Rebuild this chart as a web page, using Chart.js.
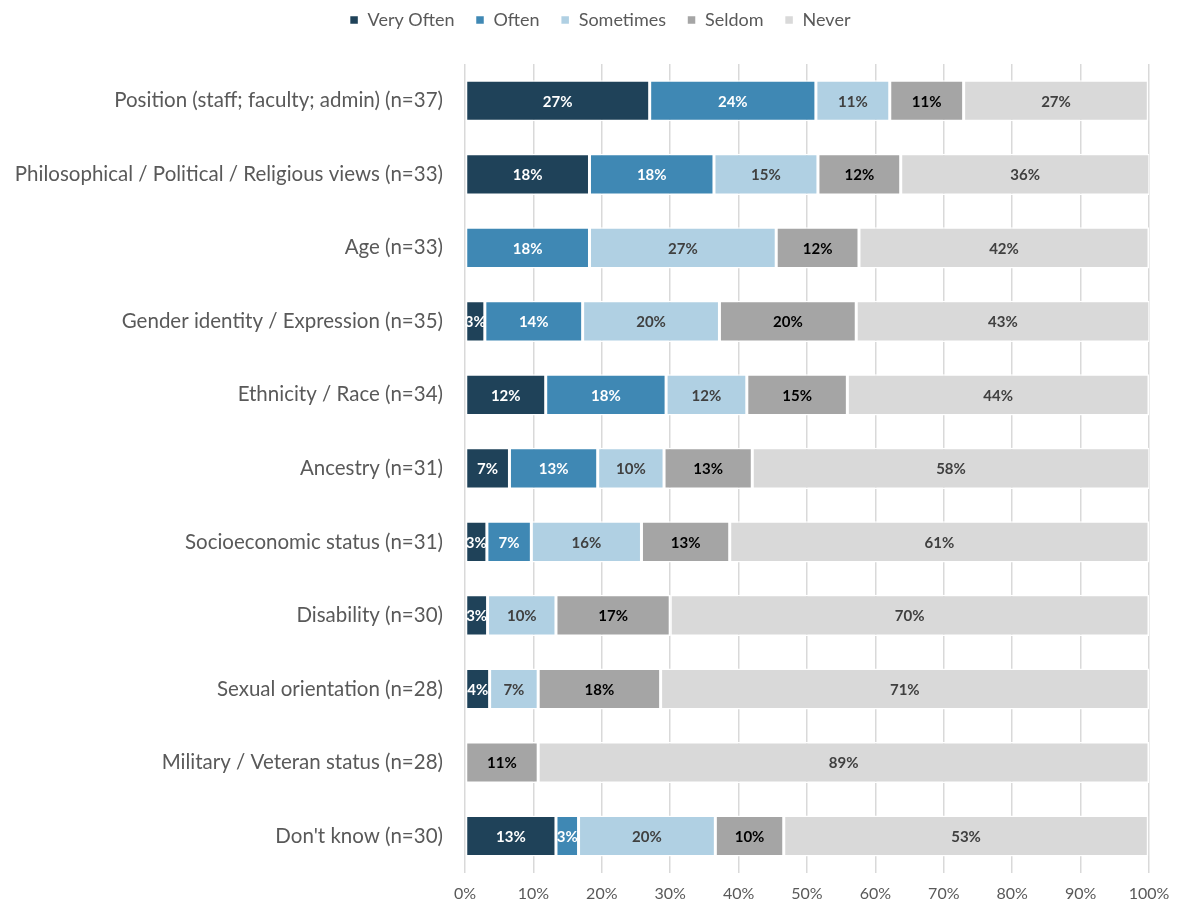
<!DOCTYPE html>
<html>
<head>
<meta charset="utf-8">
<script src="https://cdn.jsdelivr.net/npm/chart.js@4"></script>
<style>
  html, body { margin: 0; padding: 0; background: #fff; }
  #wrap { width: 1178px; height: 914px; }
</style>
</head>
<body>
<div id="wrap"><canvas id="myChart"></canvas></div>
<script>
// categories and series (percent of respondents)
const categories = [
  'Position (staff; faculty; admin) (n=37)',
  'Philosophical / Political / Religious views (n=33)',
  'Age (n=33)',
  'Gender identity / Expression (n=35)',
  'Ethnicity / Race (n=34)',
  'Ancestry (n=31)',
  'Socioeconomic status (n=31)',
  'Disability (n=30)',
  'Sexual orientation (n=28)',
  'Military / Veteran status (n=28)',
  "Don't know (n=30)"
];
const veryOften = [27.0, 18.2, 0, 2.9, 11.8, 6.5, 3.2, 3.3, 3.6, 0, 13.3];
const often     = [24.3, 18.2, 18.2, 14.3, 17.6, 12.9, 6.5, 0, 0, 0, 3.3];
const sometimes = [10.8, 15.2, 27.3, 20.0, 11.8, 9.7, 16.1, 10.0, 7.1, 0, 20.0];
const seldom    = [10.8, 12.1, 12.1, 20.0, 14.7, 12.9, 12.9, 16.7, 17.9, 10.7, 10.0];
const never     = [27.0, 36.4, 42.4, 42.9, 44.1, 58.1, 61.3, 70.0, 71.4, 89.3, 53.3];
const xTicks = [0, 10, 20, 30, 40, 50, 60, 70, 80, 90, 100];

const FONT = 'Lato, "Open Sans", sans-serif';
const labelColors = ['#ffffff', '#ffffff', '#404040', '#000000', '#404040'];

// draw the value labels inside the segments
const segmentLabels = {
  id: 'segmentLabels',
  afterDatasetsDraw(chart) {
    const ctx = chart.ctx;
    ctx.save();
    ctx.font = 'bold 15px ' + FONT;
    ctx.textAlign = 'center';
    ctx.textBaseline = 'middle';
    chart.data.datasets.forEach((ds, i) => {
      const meta = chart.getDatasetMeta(i);
      meta.data.forEach((bar, j) => {
        const v = ds.data[j];
        if (!v) return;
        const cx = (bar.x + bar.base) / 2;
        ctx.fillStyle = labelColors[i];
        ctx.fillText(Math.round(v) + '%', cx, bar.y + 1);
      });
    });
    ctx.restore();
  }
};

// room between legend and plot, and nudge the legend right
const legendTweak = {
  id: 'legendTweak',
  beforeLayout(chart) {
    const lg = chart.legend;
    if (lg && !lg._patched) {
      const fit = lg.fit;
      lg.fit = function () { fit.call(this); this.height += 25; };
      lg._patched = true;
    }
  },
  afterLayout(chart) {
    const lg = chart.legend;
    if (lg) { lg.left += 16; lg.right += 16; }
  }
};

function series(label, data, color) {
  return {
    label, data,
    backgroundColor: color,
    borderColor: '#ffffff',
    borderWidth: 1.5,
    borderSkipped: false,
    barPercentage: 0.56,
    categoryPercentage: 1.0
  };
}

const data = {
  labels: categories,
  datasets: [
    series('Very Often', veryOften, '#1f4259'),
    series('Often', often, '#3f88b4'),
    series('Sometimes', sometimes, '#b0d0e3'),
    series('Seldom', seldom, '#a5a5a5'),
    series('Never', never, '#d9d9d9')
  ]
};

const config = {
  type: 'bar',
  data,
  options: {
    indexAxis: 'y',
    responsive: true,
    maintainAspectRatio: false,
    animation: false,
    layout: { padding: { top: -10, right: 10, bottom: 0, left: 0 } },
    plugins: {
      legend: {
        position: 'top',
        labels: {
          boxWidth: 9,
          boxHeight: 9,
          padding: 21,
          color: '#595959',
          font: { family: FONT, size: 18 }
        }
      },
      tooltip: { enabled: false }
    },
    scales: {
      x: {
        stacked: true,
        min: 0,
        max: 100,
        afterBuildTicks(scale) { scale.ticks = xTicks.map(v => ({ value: v })); },
        afterFit(scale) { scale.paddingRight = 29; },
        ticks: {
          callback: v => v + '%',
          color: '#595959',
          font: { family: FONT, size: 16 },
          padding: 11
        },
        grid: { color: '#d9d9d9', drawTicks: false, lineWidth: 1.5 },
        border: { display: false }
      },
      y: {
        stacked: true,
        afterFit(scale) { scale.width = 465; },
        ticks: {
          color: '#595959',
          font: { family: FONT, size: 20.5 },
          padding: 22
        },
        grid: { display: false, drawTicks: false },
        border: { display: false }
      }
    }
  },
  plugins: [segmentLabels, legendTweak]
};

const myChart = new Chart(document.getElementById('myChart'), config);
</script>
</body>
</html>
